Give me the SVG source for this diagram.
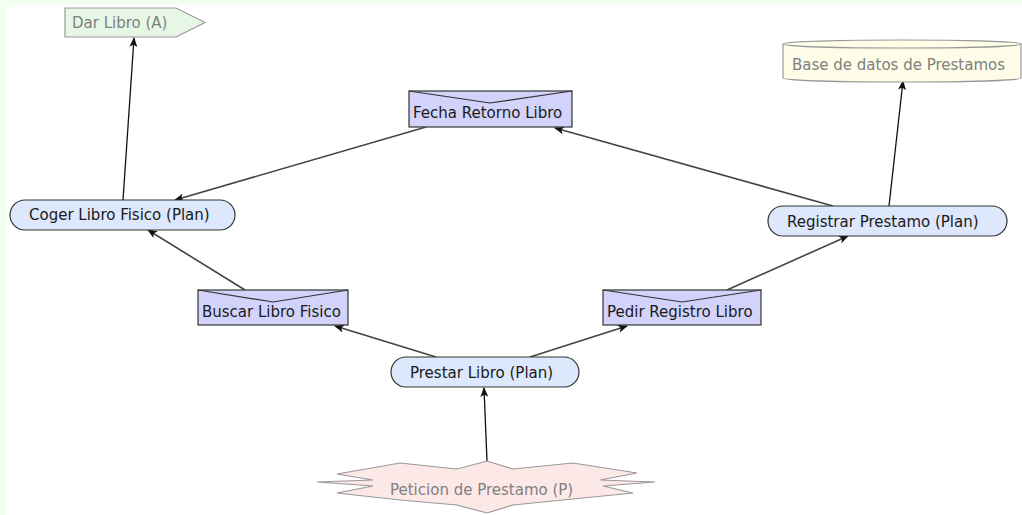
<svg xmlns="http://www.w3.org/2000/svg" width="1022" height="515" viewBox="0 0 1022 515">
  <style>
    .lbl { font-family: "DejaVu Sans", Verdana, sans-serif; font-size: 15px; fill: #1a1a1a; }
    .soft { fill: #808080; }
    .goal { fill: #dde8fc; stroke: #333; stroke-width: 1.2; }
    .msg { fill: #d2d2fa; stroke: #333; stroke-width: 1.2; }
    .flap { fill: none; stroke: #333; stroke-width: 1.2; }
    .act { fill: #e6f7e6; stroke: #999; stroke-width: 1.2; }
    .db { fill: #fdfde8; stroke: #999; stroke-width: 1.2; }
    .perc { fill: #fde8e8; stroke: #999; stroke-width: 1.2; }
    .edge { stroke: #444; stroke-width: 1.6; fill: none; marker-end: url(#head); }
    .edge-thin { stroke: #111; stroke-width: 1.3; fill: none; marker-end: url(#head); }
  </style>
  <defs>
    <marker id="head" markerUnits="userSpaceOnUse" markerWidth="10" markerHeight="8" refX="9" refY="4" orient="auto">
      <path d="M0,0 L10,4 L0,8 L2.5,4 Z" fill="#111"/>
    </marker>
  </defs>

  <!-- page background -->
  <rect x="0" y="0" width="1022" height="515" fill="#f0fff0"/>
  <rect x="7" y="5" width="1015" height="510" fill="#ffffff"/>

  <!-- connectors -->
  <g id="connectors">
    <line class="edge-thin" x1="123" y1="200" x2="134" y2="38"/>
    <line class="edge-thin" x1="889" y1="206" x2="903" y2="81"/>
    <line class="edge" x1="426" y1="127" x2="175" y2="200"/>
    <line class="edge" x1="833" y1="206" x2="555" y2="128"/>
    <line class="edge" x1="245" y1="290" x2="148" y2="230"/>
    <line class="edge" x1="727" y1="290" x2="848" y2="236"/>
    <line class="edge" x1="436" y1="357" x2="335" y2="326"/>
    <line class="edge" x1="530" y1="357" x2="627" y2="326"/>
    <line class="edge-thin" x1="487" y1="461" x2="484" y2="388"/>
  </g>

  <!-- action -->
  <g id="dar-libro">
    <path class="act" d="M65,8 L176,8 L205,22.5 L176,37 L65,37 Z"/>
    <text class="lbl soft" x="72" y="28">Dar Libro (A)</text>
  </g>

  <!-- database -->
  <g id="base-datos">
    <path class="db" d="M783,44 A119,4 0 0 1 1021,44 L1021,78 A119,4 0 0 1 783,78 Z"/>
    <path class="db" d="M783,44 A119,4 0 0 0 1021,44" fill="none"/>
    <text class="lbl soft" x="792" y="70">Base de datos de Prestamos</text>
  </g>

  <!-- messages -->
  <g id="fecha-retorno">
    <rect class="msg" x="409" y="91" width="163" height="36"/>
    <polyline class="flap" points="409,91 490,103 572,91"/>
    <text class="lbl" x="413" y="118">Fecha Retorno Libro</text>
  </g>

  <g id="buscar-libro">
    <rect class="msg" x="198" y="290" width="150" height="35"/>
    <polyline class="flap" points="198,290 273,302 348,290"/>
    <text class="lbl" x="202" y="317">Buscar Libro Fisico</text>
  </g>

  <g id="pedir-registro">
    <rect class="msg" x="603" y="290" width="158" height="35"/>
    <polyline class="flap" points="603,290 682,302 761,290"/>
    <text class="lbl" x="607" y="317">Pedir Registro Libro</text>
  </g>

  <!-- plans -->
  <g id="coger-libro">
    <rect class="goal" x="10" y="200" width="225" height="30" rx="15" ry="15"/>
    <text class="lbl" x="29" y="220">Coger Libro Fisico (Plan)</text>
  </g>

  <g id="registrar-prestamo">
    <rect class="goal" x="768" y="206" width="239" height="30" rx="15" ry="15"/>
    <text class="lbl" x="787" y="227">Registrar Prestamo (Plan)</text>
  </g>

  <g id="prestar-libro">
    <rect class="goal" x="391" y="357" width="188" height="30" rx="15" ry="15"/>
    <text class="lbl" x="410" y="378">Prestar Libro (Plan)</text>
  </g>

  <!-- percept -->
  <g id="peticion-prestamo">
    <path class="perc" d="M400,463 L457,469 L487,461 L513,469 L573,463 L637,473 L600,480 L655,482 L603,486 L633,493 L573,499 L513,505 L487,513 L457,505 L400,500 L337,493 L373,486 L317,482 L373,480 L337,474 Z"/>
    <text class="lbl soft" x="390" y="495">Peticion de Prestamo (P)</text>
  </g>
</svg>
